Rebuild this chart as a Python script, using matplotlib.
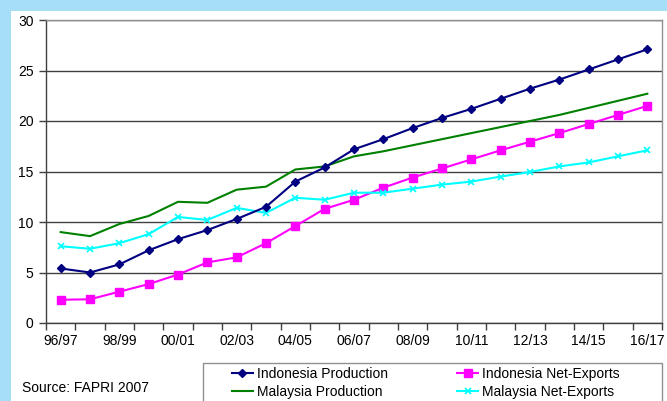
import matplotlib
matplotlib.use("Agg")
import matplotlib.pyplot as plt
from matplotlib.patches import Rectangle

plt.rcParams['font.family'] = ['Liberation Sans', 'DejaVu Sans']

years = ['96/97', '97/98', '98/99', '99/00', '00/01', '01/02', '02/03', '03/04',
         '04/05', '05/06', '06/07', '07/08', '08/09', '09/10', '10/11', '11/12',
         '12/13', '13/14', '14/15', '15/16', '16/17']

indo_prod = [5.4, 5.0, 5.8, 7.2, 8.3, 9.2, 10.3, 11.5, 14.0, 15.4, 17.2, 18.2,
             19.3, 20.3, 21.2, 22.2, 23.2, 24.1, 25.1, 26.1, 27.1]
indo_net = [2.3, 2.35, 3.1, 3.85, 4.8, 6.0, 6.5, 7.9, 9.6, 11.3, 12.2, 13.4,
            14.4, 15.3, 16.2, 17.1, 17.95, 18.8, 19.7, 20.6, 21.5]
mal_prod = [9.0, 8.6, 9.8, 10.6, 12.0, 11.9, 13.2, 13.5, 15.2, 15.5, 16.5, 17.0,
            17.6, 18.2, 18.8, 19.4, 20.0, 20.6, 21.3, 22.0, 22.7]
mal_net = [7.6, 7.35, 7.9, 8.8, 10.5, 10.2, 11.4, 10.9, 12.4, 12.2, 12.9, 12.9,
           13.3, 13.7, 14.0, 14.5, 14.95, 15.5, 15.9, 16.5, 17.1]

fig = plt.figure(figsize=(6.67, 4.01), dpi=100)
fig.patch.set_facecolor('white')

# light blue frame on top and left
blue = '#a6def8'
fig.patches.append(Rectangle((0, 1 - 11/401), 1, 11/401, transform=fig.transFigure,
                             facecolor=blue, edgecolor='none', zorder=0))
fig.patches.append(Rectangle((0, 0), 11/667, 1, transform=fig.transFigure,
                             facecolor=blue, edgecolor='none', zorder=0))

ax = fig.add_axes([46/667, 1 - 323/401, 616/667, 303/401])

x = list(range(len(years)))
ax.plot(x, indo_prod, color='#000080', lw=1.5, marker='D', ms=4, label='Indonesia Production', zorder=5)
ax.plot(x, mal_prod, color='#008000', lw=1.5, label='Malaysia Production', zorder=3)
ax.plot(x, indo_net, color='#ff00ff', lw=1.5, marker='s', ms=6, label='Indonesia Net-Exports', zorder=4)
ax.plot(x, mal_net, color='#00ffff', lw=1.5, marker='x', ms=5, mew=1.2, label='Malaysia Net-Exports', zorder=4)

ax.set_xlim(-0.5, len(years) - 0.5)
ax.set_ylim(0, 30)
ax.set_yticks(range(0, 31, 5))
# tick marks between categories, labels on every other category
ax.set_xticks([i - 0.5 for i in range(len(years) + 1)])
ax.set_xticklabels([])
ax.set_xticks(x[::2], minor=True)
ax.set_xticklabels(years[::2], minor=True)
ax.tick_params(axis='x', which='major', length=5, color='#404040', width=1)
ax.tick_params(axis='x', which='minor', length=0, pad=8, labelsize=10)
ax.tick_params(axis='y', length=5, color='#404040', width=1, labelsize=10, pad=4)

ax.grid(axis='y', color='#404040', lw=1, zorder=1)
ax.set_axisbelow(True)
for s in ['left', 'bottom']:
    ax.spines[s].set_color('#404040')
    ax.spines[s].set_linewidth(1)
for s in ['top', 'right']:
    ax.spines[s].set_color('#909090')
    ax.spines[s].set_linewidth(1)

# legend frame (runs off the bottom edge) and legend
fig.patches.append(Rectangle((203/667, -10/401), 459/667, (401 - 363 + 10)/401, transform=fig.transFigure,
                             facecolor='white', edgecolor='#909090', lw=1, zorder=2))
handles, labels = ax.get_legend_handles_labels()
leg = fig.legend(handles, labels, ncol=2,
                 loc='upper left', bbox_to_anchor=(222/667, 1 - 357/401),
                 frameon=False, fontsize=10, handlelength=1.5, handletextpad=0.3,
                 columnspacing=5.0, labelspacing=0.3, borderpad=0.2)

fig.text(22/667, 1 - 388/401, 'Source: FAPRI 2007', fontsize=10, va='center', ha='left')

fig.savefig('out.png', dpi=100)
